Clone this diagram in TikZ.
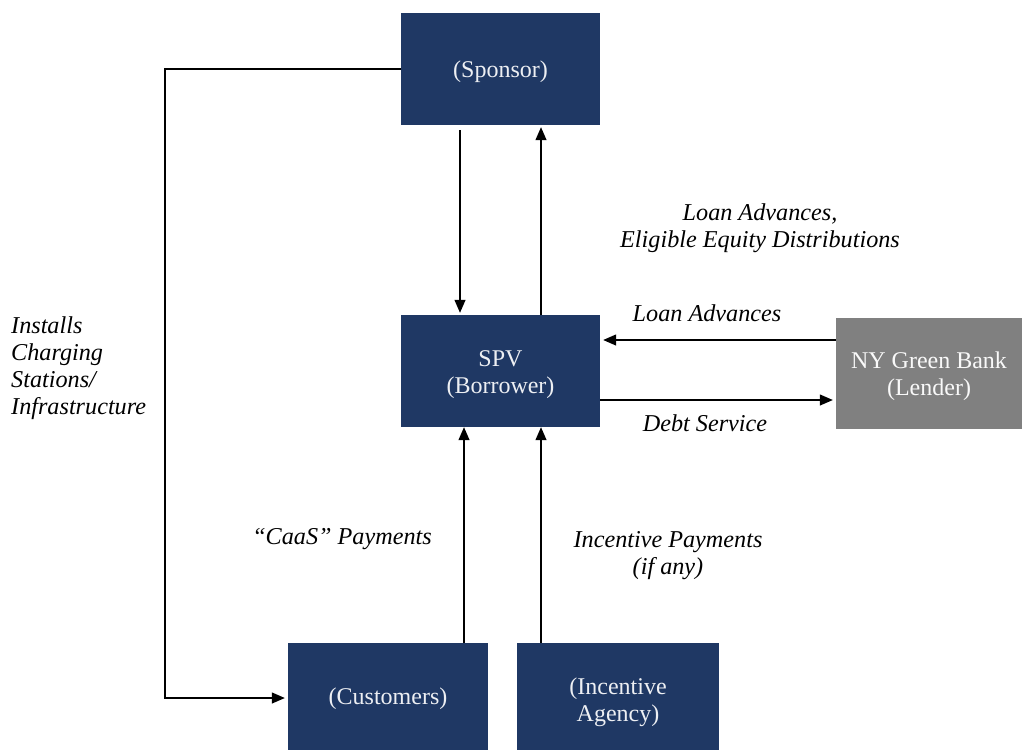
\documentclass[tikz,border=0pt]{standalone}
\usepackage{fontspec}
\setmainfont{Liberation Serif}
\usetikzlibrary{arrows.meta}
\definecolor{navy}{HTML}{1F3864}
\definecolor{gbgray}{HTML}{808080}
\begin{document}
\begin{tikzpicture}[x=1pt,y=-1pt,
  box/.style={fill=navy,draw=none,text=white!92!navy,align=center,inner sep=0pt,
    font=\fontsize{24}{27}\selectfont},
  gbox/.style={box,fill=gbgray,text=white!95!gbgray},
  arr/.style={line width=1.2pt,-{Triangle[length=13pt,width=11pt]}},
  lbl/.style={align=center,inner sep=0pt,font=\fontsize{24.2}{27}\selectfont\itshape}]
\useasboundingbox (0,0) rectangle (1022,750);
\node[box,minimum width=199pt,minimum height=112pt,text height=23pt] (sponsor) at (500.5,69) {(Sponsor)};
\node[box,minimum width=199pt,minimum height=112pt,text height=51pt] (spv) at (500.5,371) {SPV\\(Borrower)};
\node[gbox,minimum width=186pt,minimum height=111pt,text height=50pt] (nygb) at (929,373.5) {NY Green Bank\\(Lender)};
\node[box,minimum width=200pt,minimum height=107pt,text height=22pt] (cust) at (388,696.5) {(Customers)};
\node[box,minimum width=202pt,minimum height=107pt,text height=56pt] (inc) at (618,696.5) {(Incentive\\Agency)};
% labels
\node[lbl] (l1) at (760,228) {Loan Advances,\\Eligible Equity Distributions};
\node[lbl] (l2) at (707,313) {Loan Advances};
\node[lbl] (l3) at (705,423) {Debt Service};
\node[lbl] (l4) at (342,539) {``CaaS'' Payments};
\node[lbl] (l5) at (668,556) {Incentive Payments\\(if any)};
\node[lbl,align=left,anchor=west] (l6) at (11,368) {Installs\\Charging\\Stations/\\Infrastructure};
% connectors
\coordinate (lft) at (165,69);
\draw[arr] ([xshift=-40.5pt,yshift=-5pt]sponsor.south) -- ([xshift=-40.5pt,yshift=2pt]spv.north);
\draw[arr] ([xshift=40.5pt]spv.north) -- ([xshift=40.5pt,yshift=-2pt]sponsor.south);
\coordinate (sw) at (sponsor.west |- lft);
\coordinate (cw) at ([xshift=-3pt,yshift=-1.5pt]cust.west);
\draw[arr] (sw) -- (lft) |- (cw);
\coordinate (la) at ([yshift=33.5pt]nygb.west);
\draw[arr] (la) -- ([xshift=3pt]la -| spv.east);
\coordinate (ds) at ([yshift=-29pt]spv.east);
\draw[arr] (ds) -- ([xshift=-3pt]ds -| nygb.west);
\coordinate (cp) at ([xshift=76pt]cust.north);
\draw[arr] (cp) -- (cp |- spv.south);
\coordinate (ip) at ([xshift=-77pt]inc.north);
\draw[arr] (ip) -- (ip |- spv.south);
\end{tikzpicture}
\end{document}
